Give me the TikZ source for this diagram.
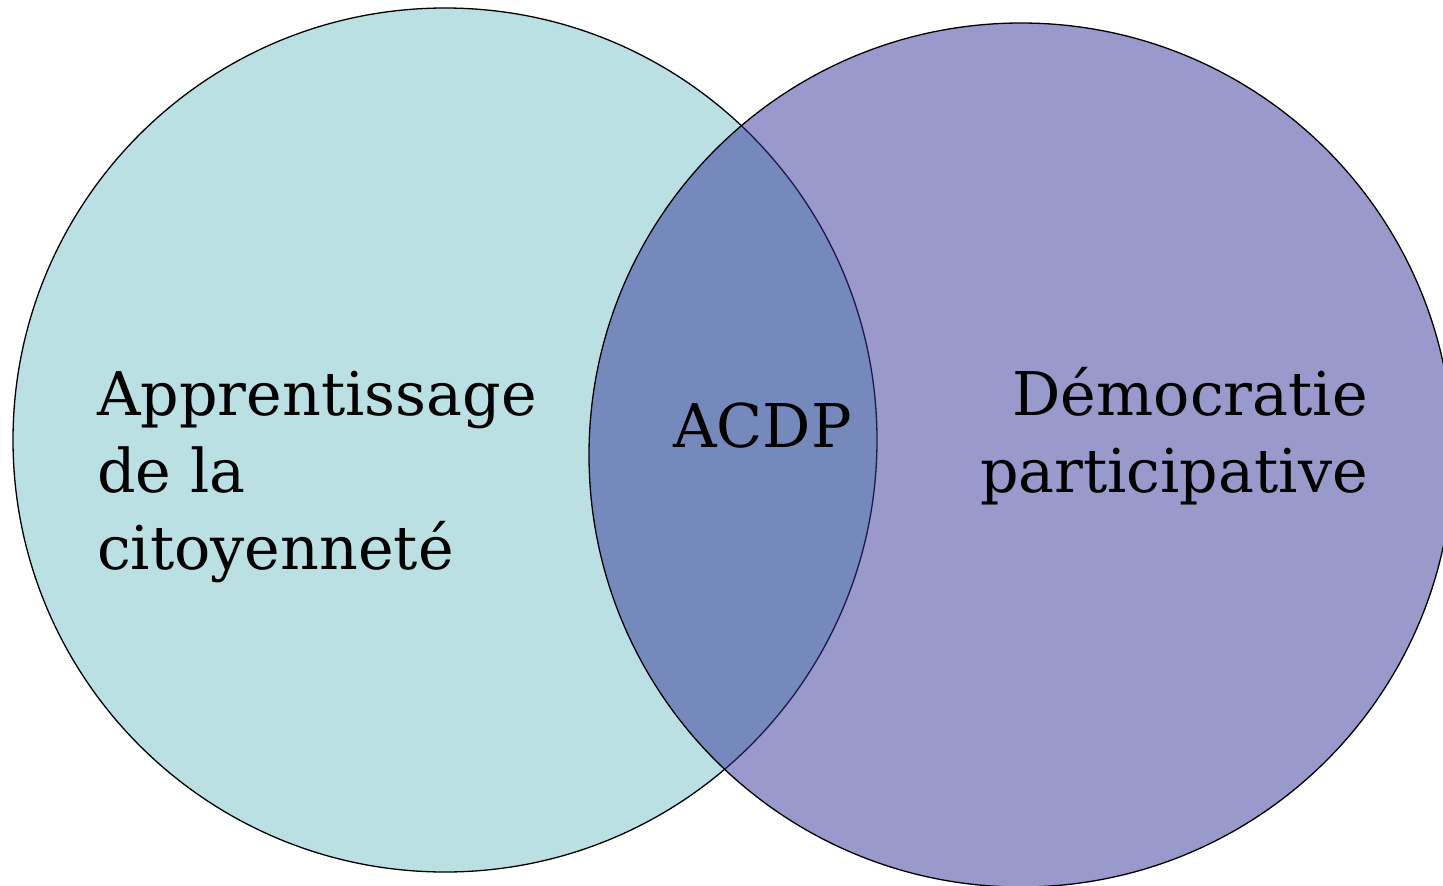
\documentclass[tikz,border=0pt]{standalone}
\usepackage{fontspec}
\setmainfont{DejaVu Serif}
\definecolor{leftfill}{RGB}{186,224,227}
\definecolor{rightfill}{RGB}{51,51,153}
\begin{document}
\begin{tikzpicture}[x=1pt,y=-1pt,
  setcircle/.style={circle,minimum size=864pt,inner sep=0pt,draw=black,line width=1.3pt},
  lbl/.style={inner sep=0pt,font=\fontsize{60.3}{77}\selectfont}]
\useasboundingbox (0,0) rectangle (1443,886);
\node[setcircle,fill=leftfill] (L) at (445,440) {};
\node[setcircle,fill=rightfill,fill opacity=0.5] (R) at (1021,455) {};
\node[lbl,anchor=base west] (lt) at (97,415) {\begin{tabular}[t]{@{}l@{}}Apprentissage\\de la\\citoyenneté\end{tabular}};
\node[lbl,anchor=base east] (rt) at (1368,415) {\begin{tabular}[t]{@{}r@{}}Démocratie\\participative\end{tabular}};
\node[lbl,anchor=base west] (mid) at (673,447) {ACDP};
\end{tikzpicture}
\end{document}
